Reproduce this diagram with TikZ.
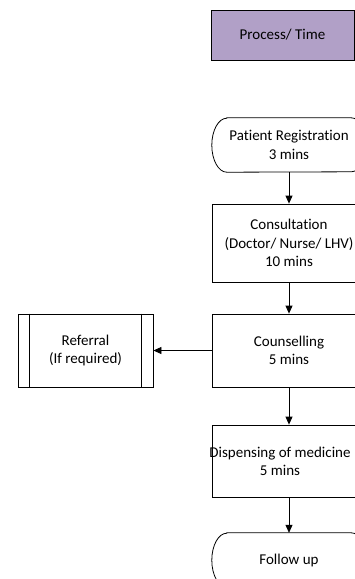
\documentclass[tikz,border=0pt]{standalone}
\usepackage{fontspec}
\setmainfont{Carlito}[Ligatures=NoCommon]
\usetikzlibrary{arrows.meta}
\definecolor{headpurple}{HTML}{B1A0C7}

\begin{document}
\begin{tikzpicture}[
  x=1pt, y=-1pt,
  every node/.style={font=\fontsize{15}{18.3}\selectfont, align=center, inner sep=0pt},
  stepbox/.style={draw, line width=0.8pt, minimum width=154pt, minimum height=73pt},
  terminal/.style={minimum width=154pt, minimum height=54pt},
  outline/.style={draw, line width=0.8pt},
  flow/.style={draw, line width=0.8pt, -{Triangle[length=8pt, width=7pt]}}
]
\clip (0,0) rectangle (355,579);

% Heading
\node[draw, line width=0.8pt, fill=headpurple, minimum width=143pt, minimum height=50pt] (head) at (282.5,35) {Process/ Time};

% Main flow
\node[terminal] (reg) at (289,145) {Patient Registration\\3 mins};
\node[stepbox, minimum height=78pt] (consult) at (289,243) {Consultation\\(Doctor/ Nurse/ LHV)\\10 mins};
\node[stepbox] (counsel) at (289,350.5) {Counselling\\5 mins};
\node[stepbox, minimum height=72pt] (dispense) at (289,461) {};
\node (dispensetext) at (280,461) {Dispensing of medicine\\5 mins};
\node[terminal] (follow) at (289,560) {Follow up};

% Terminator outlines
\draw[outline] ([xshift=15pt]reg.north west) -- ([xshift=-15pt]reg.north east)
  arc[start angle=90, end angle=-90, x radius=15pt, y radius=27pt]
  -- ([xshift=15pt]reg.south west)
  arc[start angle=270, end angle=90, x radius=15pt, y radius=27pt] -- cycle;
\draw[outline] ([xshift=15pt]follow.north west) -- ([xshift=-15pt]follow.north east)
  arc[start angle=90, end angle=-90, x radius=15pt, y radius=27pt]
  -- ([xshift=15pt]follow.south west)
  arc[start angle=270, end angle=90, x radius=15pt, y radius=27pt] -- cycle;

% Side branch
\node[stepbox, minimum width=135pt] (refer) at (85.5,350.5) {Referral\\(If required)};
\draw[outline] ([xshift=12pt]refer.north west) -- ([xshift=12pt]refer.south west);
\draw[outline] ([xshift=-12pt]refer.north east) -- ([xshift=-12pt]refer.south east);

\draw[flow] (reg) -- (consult);
\draw[flow] (consult) -- (counsel);
\draw[flow] (counsel) -- (dispense);
\draw[flow] (dispense) -- (follow);
\draw[flow] (counsel) -- (refer);

\end{tikzpicture}
\end{document}
